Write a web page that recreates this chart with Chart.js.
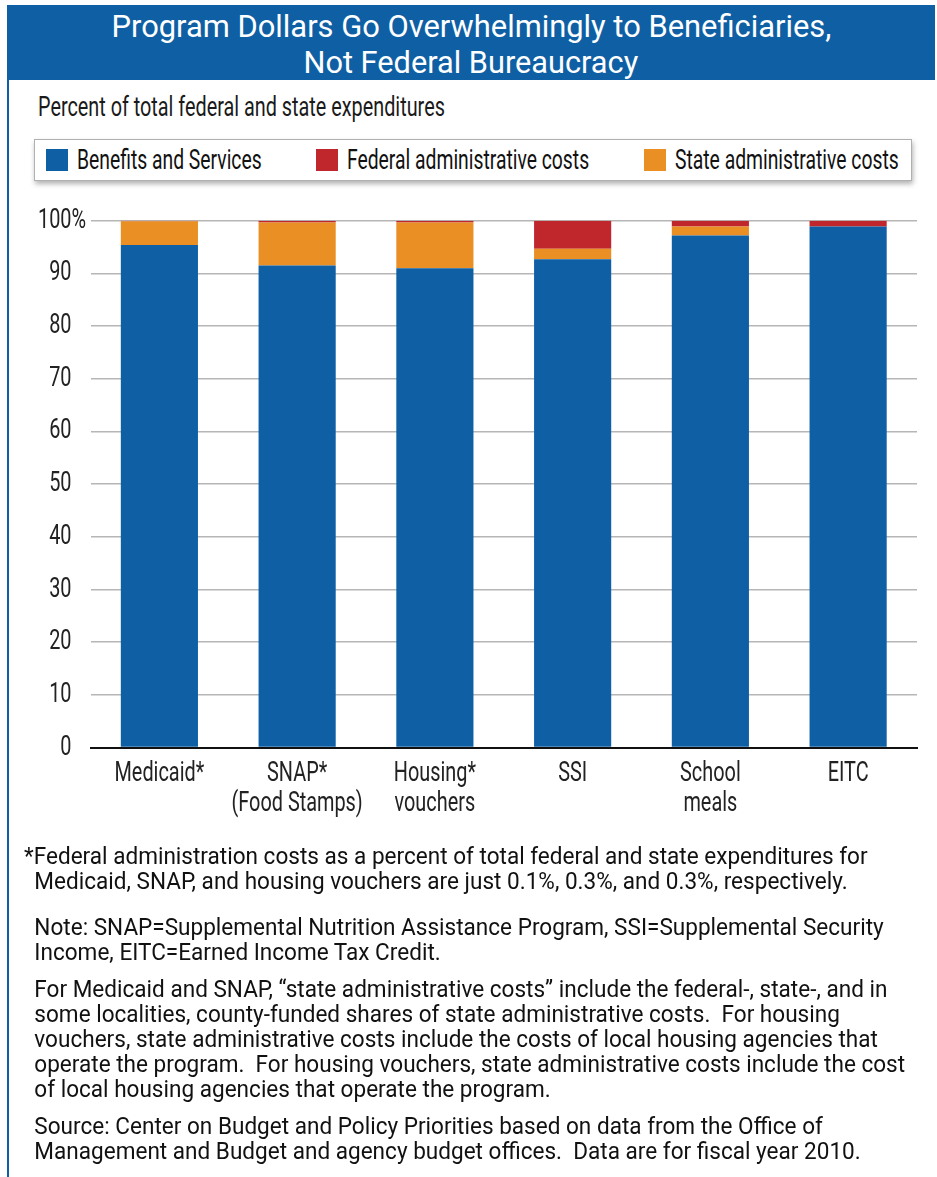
<!DOCTYPE html>
<html>
<head>
<meta charset="utf-8">
<script src="https://cdn.jsdelivr.net/npm/chart.js@4.4.1/dist/chart.umd.min.js"></script>
<style>
  body { margin: 0; background: #fff; width: 937px; height: 1177px; position: relative; overflow: hidden; font-family: Roboto, sans-serif; }
  #header { position: absolute; left: 7px; top: 5px; width: 928px; height: 75px; background: #0f5fa4; color: #fff; }
  .hline { position: absolute; left: 0; width: 928px; text-align: center; font-size: 31px; line-height: 36px; }
  .hline span { display: inline-block; white-space: nowrap; transform-origin: center top; }
  #leftline { position: absolute; left: 7px; top: 80px; width: 2px; height: 1097px; background: #0f5fa4; }
  #subtitle { position: absolute; left: 38px; top: 90px; font-size: 28px; line-height: 34px; color: #1a1a1a; white-space: nowrap; }
  #legend { position: absolute; left: 34px; top: 139px; width: 878px; height: 42px; border: 1px solid #b0b0b0; background: #fff;
    box-shadow: 1px 3px 5px rgba(0,0,0,0.3); display: flex; justify-content: space-between; align-items: center;
    padding: 0 12px 0 11px; box-sizing: border-box; }
  #legend .item { display: flex; align-items: center; font-size: 28px; line-height: 32px; color: #111; white-space: nowrap; }
  #legend .sw { width: 22px; height: 22px; margin-right: 9px; flex: none; }
  #legend .txt { display: inline-block; transform-origin: left center; }
  #wrap { position: absolute; left: 0; top: 185px; width: 937px; height: 660px; }
  #notes { position: absolute; left: 24px; top: 844px; color: #111; font-size: 24px; line-height: 25px; white-space: nowrap; transform-origin: left top; }
  #notes p { margin: 0 0 12px 11px; }
  #notes p.star { text-indent: -11px; margin-bottom: 21px; }
</style>
</head>
<body>
<div id="header">
  <div class="hline" style="top:4px"><span data-w="720">Program Dollars Go Overwhelmingly to Beneficiaries,</span></div>
  <div class="hline" style="top:40px"><span data-w="335">Not Federal Bureaucracy</span></div>
</div>
<div id="leftline"></div>
<div id="subtitle"><span id="subText" style="display:inline-block;transform-origin:left top">Percent of total federal and state expenditures</span></div>
<div id="legend"></div>
<div id="wrap"><canvas id="chart1"></canvas></div>
<div id="notes">
  <p class="star"><span id="firstLine">*Federal administration costs as a percent of total federal and state expenditures for</span><br>Medicaid, SNAP, and housing vouchers are just 0.1%, 0.3%, and 0.3%, respectively.</p>
  <p>Note: SNAP=Supplemental Nutrition Assistance Program, SSI=Supplemental Security<br>Income, EITC=Earned Income Tax Credit.</p>
  <p>For Medicaid and SNAP, “state administrative costs” include the federal-, state-, and in<br>some localities, county-funded shares of state administrative costs.&nbsp; For housing<br>vouchers, state administrative costs include the costs of local housing agencies that<br>operate the program.&nbsp; For housing vouchers, state administrative costs include the cost<br>of local housing agencies that operate the program.</p>
  <p>Source: Center on Budget and Policy Priorities based on data from the Office of<br>Management and Budget and agency budget offices.&nbsp; Data are for fiscal year 2010.</p>
</div>
<script>
// data (percent of total spending)
var programs = [["Medicaid*"], ["SNAP*", "(Food Stamps)"], ["Housing*", "vouchers"], ["SSI"], ["School", "meals"], ["EITC"]];
var benefits = [95.4, 91.5, 91.0, 92.7, 97.2, 98.9];
var stateAdmin = [4.5, 8.2, 8.7, 2.0, 1.7, 0];
var federalAdmin = [0.1, 0.3, 0.3, 5.3, 1.1, 1.1];
var yTicks = [0, 10, 20, 30, 40, 50, 60, 70, 80, 90, 100];

var legendOrder = ["Benefits and Services", "Federal administrative costs", "State administrative costs"];
var squeeze = 0.71; // original uses a condensed face, we fake it by narrowing the glyphs

// squeeze an inline-block horizontally and give the freed space back to the layout
function narrow(el, k) {
  var w = el.offsetWidth;
  el.style.transform = 'scaleX(' + k + ')';
  el.style.marginRight = (-w * (1 - k)) + 'px';
}

document.querySelectorAll('.hline span').forEach(function(el) {
  el.style.transform = 'scaleX(' + (el.getAttribute('data-w') / el.offsetWidth) + ')';
});
var subText = document.getElementById('subText');
subText.style.transform = 'scaleX(' + (407 / subText.offsetWidth) + ')';
var notes = document.getElementById('notes');
notes.style.transform = 'scaleX(' + (844 / document.getElementById('firstLine').offsetWidth) + ')';

// same trick on the canvas: every fillText / measureText is narrowed
var canvas1 = document.getElementById("chart1");
var ctx1 = canvas1.getContext('2d');
var origFill = ctx1.fillText.bind(ctx1);
var origMeasure = ctx1.measureText.bind(ctx1);
ctx1.fillText = function(t, x, y) {
  ctx1.save();
  ctx1.translate(x, y);
  ctx1.scale(squeeze, 1);
  origFill(t, 0, 0);
  ctx1.restore();
};
ctx1.measureText = function(t) {
  var m = origMeasure(t);
  return { width: m.width * squeeze, actualBoundingBoxAscent: m.actualBoundingBoxAscent, actualBoundingBoxDescent: m.actualBoundingBoxDescent };
};

// "%" after the 100 tick
var pctPlugin = {
  id: 'pct',
  afterDraw: function(chart) {
    var ys = chart.scales.y, ctx = chart.ctx;
    ctx.save();
    ctx.font = '28px Roboto';
    ctx.fillStyle = '#222';
    ctx.textAlign = 'left';
    ctx.textBaseline = 'middle';
    ctx.fillText('%', ys.right - 19, ys.getPixelForValue(100));
    ctx.restore();
  }
};

// html legend built from the chart's own labels
var htmlLegend = {
  id: 'htmlLegend',
  afterUpdate: function(chart) {
    var box = document.getElementById('legend');
    box.innerHTML = '';
    var items = chart.options.plugins.legend.labels.generateLabels(chart);
    items.sort(function(a, b) { return legendOrder.indexOf(a.text) - legendOrder.indexOf(b.text); });
    items.forEach(function(it) {
      var d = document.createElement('div');
      d.className = 'item';
      d.innerHTML = '<span class="sw" style="background:' + it.fillStyle + '"></span><span class="txt">' + it.text + '</span>';
      box.appendChild(d);
      narrow(d.querySelector('.txt'), 0.69);
    });
  }
};

var config1 = {
  type: 'bar',
  data: {
    labels: programs,
    datasets: [
      { label: "Benefits and Services", data: benefits, backgroundColor: "#0f5fa4" },
      { label: "State administrative costs", data: stateAdmin, backgroundColor: "#e98f24" },
      { label: "Federal administrative costs", data: federalAdmin, backgroundColor: "#c0272d" }
    ]
  },
  options: {
    responsive: true,
    maintainAspectRatio: false,
    animation: false,
    layout: { padding: { left: 19, right: 20, top: 10, bottom: 15 } },
    datasets: { bar: { barPercentage: 0.56, categoryPercentage: 1 } },
    plugins: {
      tooltip: { enabled: false },
      legend: { display: false }
    },
    scales: {
      x: {
        stacked: true,
        grid: { display: false, drawTicks: false },
        border: { color: '#111', width: 2 },
        ticks: { color: '#222', padding: 11, maxRotation: 0, minRotation: 0, autoSkip: false,
                 font: { family: 'Roboto', size: 28, lineHeight: 1.08 } }
      },
      y: {
        stacked: true, min: 0, max: 100,
        afterBuildTicks: function(axis) { axis.ticks = yTicks.map(function(v) { return { value: v }; }); },
        border: { display: false },
        grid: {
          drawTicks: false, lineWidth: 1.5,
          color: function(c) { return c.tick && c.tick.value === 0 ? 'rgba(0,0,0,0)' : '#b6b6b6'; }
        },
        ticks: { color: '#222', padding: 19, font: { family: 'Roboto', size: 28 } }
      }
    }
  },
  plugins: [pctPlugin, htmlLegend]
};

var myBar = new Chart(ctx1, config1);
</script>
</body>
</html>
